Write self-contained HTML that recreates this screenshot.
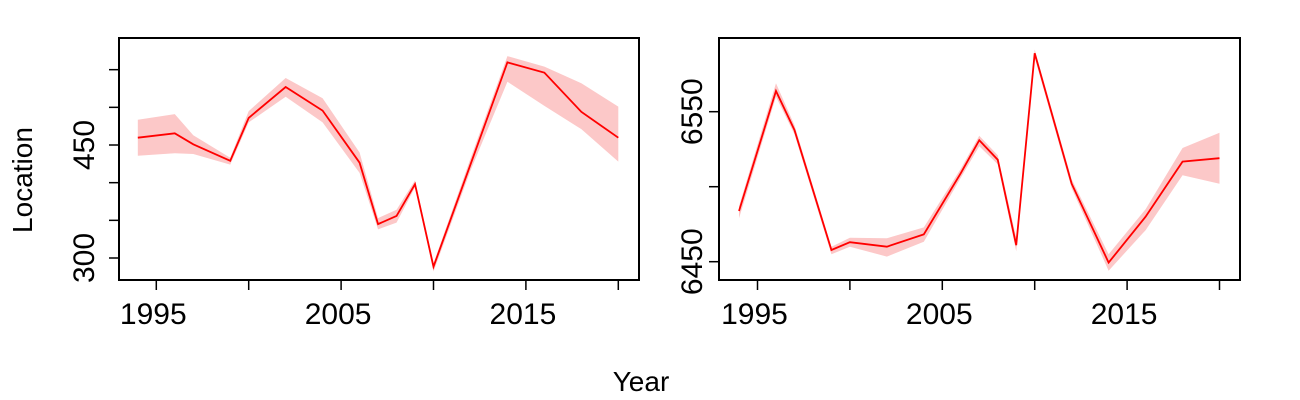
<!DOCTYPE html>
<html><head><meta charset="utf-8"><style>
html,body{margin:0;padding:0;background:#fff;}
svg{display:block;font-family:"Liberation Sans",Arial,sans-serif;}
</style></head><body>
<svg id="chart" width="1300" height="400" viewBox="0 0 1300 400">
<text x="641" y="391" font-size="28" text-anchor="middle">Year</text>
<text transform="translate(32,180) rotate(-90)" font-size="28" text-anchor="middle">Location</text>
</svg>
<script>
const years = [1994,1996,1997,1999,2000,2002,2004,2006,2007,2008,2009,2010,2012,2014,2016,2018,2020];
const leftMean = [459.7,465.5,450.9,429,486,527,495.6,426.5,345,355.8,398,288.5,424,559.7,546,494,459.7];
const leftLo = [435.7,439,438,424,480,514,480,413,338,347,394,282,416,534,502,471,428];
const leftHi = [483.5,491,463,433,495,539,512,440,353,364,403,293,432,568,554,532,501];
const rightMean = [6483.8,6563.8,6537.8,6457.8,6463,6460,6468.2,6509,6531,6518,6461,6589,6502,6449.4,6480,6516.7,6519];
const rightLo = [6479,6560,6535,6455,6460,6453.4,6463.3,6506,6527,6515,6457,6586,6499,6444,6471,6507.6,6502];
const rightHi = [6487,6569,6541,6460,6466,6465.6,6472.9,6512,6534,6521,6466,6591.5,6505,6455,6485,6525.8,6536];
const xTicks = [1995,2000,2005,2010,2015,2020];
const xLabels = ["1995","","2005","","2015",""];
const leftTicks = [300,350,400,450,500,550];
const leftTickLabels = ["300","","","450","",""];
const rightTicks = [6450,6500,6550];
const rightTickLabels = ["6450","","6550"];

const svg = document.getElementById('chart');
const NS = 'http://www.w3.org/2000/svg';
function mk(tag, attrs){const e=document.createElementNS(NS,tag);for(const k in attrs)e.setAttribute(k,attrs[k]);svg.appendChild(e);return e;}

function panel(p){
  const sx = v => p.x0 + (v-1995)*p.pxYear;
  const sy = v => p.yRef - (v-p.vRef)*p.pxUnit;
  const box = mk('rect',{x:p.bx,y:38,width:p.bw,height:242,fill:'none',stroke:'#000','stroke-width':2});
  
  
  let d='';
  years.forEach((y,i)=>{d+=(i?'L':'M')+sx(y)+','+sy(p.hi[i]);});
  for(let i=years.length-1;i>=0;i--) d+='L'+sx(years[i])+','+sy(p.lo[i]);
  const band = mk('path',{d:d+'Z',fill:'#fcc8c8',stroke:'none'});
  
  
  const pts = years.map((y,i)=>sx(y)+','+sy(p.mean[i])).join(' ');
  const line = mk('polyline',{points:pts,fill:'none',stroke:'#ff0000','stroke-width':1.8});
  
  
  xTicks.forEach((t,i)=>{
    const tk = mk('line',{x1:sx(t),x2:sx(t),y1:280,y2:290,stroke:'#000','stroke-width':1.5});
    
    
    if(xLabels[i]){
      const tx = mk('text',{x:sx(t)-3,y:324,'font-size':30,'text-anchor':'middle'});
      tx.textContent = xLabels[i];
      
      
    }
  });
  p.ticks.forEach((t,i)=>{
    const tk = mk('line',{x1:p.bx-10,x2:p.bx,y1:sy(t),y2:sy(t),stroke:'#000','stroke-width':1.5});
    
    
    if(p.tickLabels[i]){
      const tx = mk('text',{transform:'translate('+(p.bx-p.lblOff)+','+sy(t)+') rotate(-90)','font-size':30,'text-anchor':'middle'});
      tx.textContent = p.tickLabels[i];
      
      
    }
  });
}
panel({name:'left',bx:119,bw:520,x0:156.3,pxYear:18.48,yRef:258,vRef:300,pxUnit:0.7533,lblOff:25,mean:leftMean,lo:leftLo,hi:leftHi,ticks:leftTicks,tickLabels:leftTickLabels});
panel({name:'right',bx:719,bw:521,x0:757.5,pxYear:18.48,yRef:261.7,vRef:6450,pxUnit:1.5,lblOff:17,mean:rightMean,lo:rightLo,hi:rightHi,ticks:rightTicks,tickLabels:rightTickLabels});
</script>
</body></html>
